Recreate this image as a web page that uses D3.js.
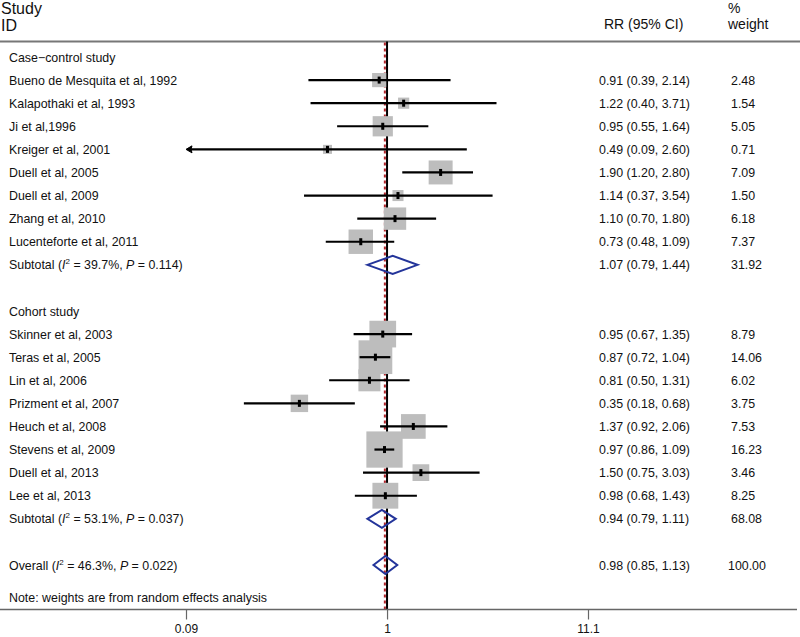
<!DOCTYPE html>
<html>
<head>
<meta charset="utf-8">
<script src="https://cdn.jsdelivr.net/npm/d3@7/dist/d3.min.js"></script>
<style>
  html, body { margin: 0; padding: 0; background: #fff; }
  svg { display: block; }
  text { font-family: "Liberation Sans", Arial, Helvetica, sans-serif; fill: #111; }
</style>
</head>
<body>
<svg id="chart" width="800" height="637"></svg>
<script>
// ---------------- data ----------------
const groupLabels = ["Case\u2212control study", "Cohort study"];
const studyNames = [
  "Bueno de Mesquita et al, 1992", "Kalapothaki et al, 1993", "Ji et al,1996",
  "Kreiger et al, 2001", "Duell et al, 2005", "Duell et al, 2009",
  "Zhang et al, 2010", "Lucenteforte et al, 2011",
  "Skinner et al, 2003", "Teras et al, 2005", "Lin et al, 2006",
  "Prizment et al, 2007", "Heuch et al, 2008", "Stevens et al, 2009",
  "Duell et al, 2013", "Lee et al, 2013"
];
const studyGroup  = [0,0,0,0,0,0,0,0, 1,1,1,1,1,1,1,1];
const studyRR     = [0.91,1.22,0.95,0.49,1.90,1.14,1.10,0.73, 0.95,0.87,0.81,0.35,1.37,0.97,1.50,0.98];
const studyLo     = [0.39,0.40,0.55,0.09,1.20,0.37,0.70,0.48, 0.67,0.72,0.50,0.18,0.92,0.86,0.75,0.68];
const studyHi     = [2.14,3.71,1.64,2.60,2.80,3.54,1.80,1.09, 1.35,1.04,1.31,0.68,2.06,1.09,3.03,1.43];
const studyWeight = [2.48,1.54,5.05,0.71,7.09,1.50,6.18,7.37, 8.79,14.06,6.02,3.75,7.53,16.23,3.46,8.25];

const subtotalI2     = ["39.7", "53.1"];
const subtotalP      = ["0.114", "0.037"];
const subtotalRR     = [1.07, 0.94];
const subtotalLo     = [0.79, 0.79];
const subtotalHi     = [1.44, 1.11];
const subtotalWeight = [31.92, 68.08];

const overallI2 = "46.3", overallP = "0.022";
const overallRR = 0.98, overallLo = 0.85, overallHi = 1.13, overallWeight = 100.00;

const axisTicks = [0.09, 1, 11.1];
const axisTickLabels = ["0.09", "1", "11.1"];
const noteText = "Note: weights are from random effects analysis";

// ---------------- layout ----------------
const svg = d3.select("#chart");
const W = 800, H = 637;
const headerLineY = 41.5, axisY = 609.5;
const x = d3.scaleLog().domain([0.09, 11.1]).range([186, 588]);
const rowY = d3.scaleLinear().domain([0, 22]).range([57, 565]);
const colLabel = 9, colRR = 599, colW = 731;
const f2 = d3.format(".2f");

// build row table
const rows = [];
let r = 0;
[0, 1].forEach(g => {
  rows.push({type: "group", row: r++, g});
  studyNames.forEach((n, i) => {
    if (studyGroup[i] === g) rows.push({type: "study", row: r++, i});
  });
  rows.push({type: "subtotal", row: r++, g});
  r++; // blank
});
rows.push({type: "overall", row: r});

// header
svg.append("text").attr("x", 1).attr("y", 14).style("font-size", "16px").text("Study");
svg.append("text").attr("x", 1).attr("y", 31).style("font-size", "16px").text("ID");
svg.append("text").attr("x", 604).attr("y", 29).style("font-size", "14px").text("RR (95% CI)");
svg.append("text").attr("x", 728).attr("y", 13).style("font-size", "14px").text("%");
svg.append("text").attr("x", 728).attr("y", 29).style("font-size", "14px").text("weight");
svg.append("line").attr("x1", 0).attr("x2", W).attr("y1", headerLineY).attr("y2", headerLineY)
  .attr("stroke", "#777").attr("stroke-width", 2);

// reference lines
svg.append("line").attr("x1", x(1)).attr("x2", x(1)).attr("y1", headerLineY).attr("y2", axisY)
  .attr("stroke", "#000").attr("stroke-width", 2);
svg.append("line").attr("x1", x(overallRR) - 0.5).attr("x2", x(overallRR) - 0.5)
  .attr("y1", headerLineY + 1).attr("y2", axisY)
  .attr("stroke", "#b0242a").attr("stroke-width", 2).attr("stroke-dasharray", "3,3");

// axis
const axisG = svg.append("g").attr("transform", `translate(0,${axisY})`);
axisG.append("line").attr("x1", 0).attr("x2", 797).attr("y1", 0).attr("y2", 0)
  .attr("stroke", "#666").attr("stroke-width", 1.5);
const axis = d3.axisBottom(x).tickValues(axisTicks)
  .tickFormat((d, i) => axisTickLabels[i]).tickSize(10).tickPadding(5);
const ag = axisG.append("g").call(axis);
ag.select(".domain").remove();
ag.selectAll(".tick line").attr("stroke", "#666").attr("stroke-width", 1.2);
ag.selectAll(".tick text").style("font-size", "12px")
  .style("font-family", "'Liberation Sans', Arial, sans-serif").attr("fill", "#111");

svg.append("text").attr("x", colLabel).attr("y", axisY - 8).style("font-size", "12.4px").text(noteText);

const textSize = "12.4px";
function statLabel(sel, prefix, i2, p) {
  const t = sel.append("text").style("font-size", textSize);
  t.append("tspan").text(prefix + " (");
  t.append("tspan").style("font-style", "italic").text("I");
  t.append("tspan").attr("dy", -5).style("font-size", "8px").text("2");
  t.append("tspan").attr("dy", 5).text(" = " + i2 + "%, ");
  t.append("tspan").style("font-style", "italic").text("P");
  t.append("tspan").text(" = " + p + ")");
  return t;
}

const boxK = 9;
const boxes = svg.append("g"), cis = svg.append("g"), marks = svg.append("g"), texts = svg.append("g");
const diamonds = svg.append("g");

rows.forEach(d => {
  const y = rowY(d.row);
  if (d.type === "group") {
    texts.append("text").attr("x", colLabel).attr("y", y + 4.5).style("font-size", textSize).text(groupLabels[d.g]);
  } else if (d.type === "study") {
    const i = d.i;
    texts.append("text").attr("x", colLabel).attr("y", y + 4.5).style("font-size", textSize).text(studyNames[i]);
    texts.append("text").attr("x", colRR).attr("y", y + 4.5).style("font-size", textSize)
      .text(`${f2(studyRR[i])} (${f2(studyLo[i])}, ${f2(studyHi[i])})`);
    texts.append("text").attr("x", colW).attr("y", y + 4.5).style("font-size", textSize).text(f2(studyWeight[i]));
    const s = Math.max(9, boxK * Math.sqrt(studyWeight[i]));
    const cx = x(studyRR[i]);
    boxes.append("rect").attr("x", cx - s / 2).attr("y", y - s / 2).attr("width", s).attr("height", s)
      .attr("fill", "#bdbdbd");
    const lo = Math.max(studyLo[i], x.domain()[0]);
    const x1 = x(lo) + (studyLo[i] <= x.domain()[0] ? 2 : 0);
    cis.append("line").attr("x1", x1).attr("x2", x(studyHi[i])).attr("y1", y).attr("y2", y)
      .attr("stroke", "#000").attr("stroke-width", 2.2);
    if (studyLo[i] <= x.domain()[0]) {
      const ax = x(x.domain()[0]);
      cis.append("path").attr("d", `M${ax},${y} L${ax + 6},${y - 3.5} L${ax + 5},${y} L${ax + 6},${y + 3.5} Z`)
        .attr("fill", "#000").attr("stroke", "#000").attr("stroke-width", 1);
    }
    marks.append("rect").attr("x", cx - 1.5).attr("y", y - 3.5).attr("width", 3).attr("height", 7).attr("fill", "#000");
  } else {
    const isSub = d.type === "subtotal";
    const rr = isSub ? subtotalRR[d.g] : overallRR;
    const lo = isSub ? subtotalLo[d.g] : overallLo;
    const hi = isSub ? subtotalHi[d.g] : overallHi;
    const wt = isSub ? subtotalWeight[d.g] : overallWeight;
    const t = statLabel(texts, isSub ? "Subtotal" : "Overall",
      isSub ? subtotalI2[d.g] : overallI2, isSub ? subtotalP[d.g] : overallP);
    t.attr("x", colLabel).attr("y", y + 4.5);
    texts.append("text").attr("x", colRR).attr("y", y + 4.5).style("font-size", textSize)
      .text(`${f2(rr)} (${f2(lo)}, ${f2(hi)})`);
    texts.append("text").attr("x", isSub ? colW : colW - 3).attr("y", y + 4.5).style("font-size", textSize).text(f2(wt));
    const h = 9;
    diamonds.append("path")
      .attr("d", `M${x(lo)},${y} L${x(rr)},${y - h} L${x(hi)},${y} L${x(rr)},${y + h} Z`)
      .attr("fill", "none").attr("stroke", "#23349a").attr("stroke-width", 2);
  }
});
</script>
</body>
</html>
